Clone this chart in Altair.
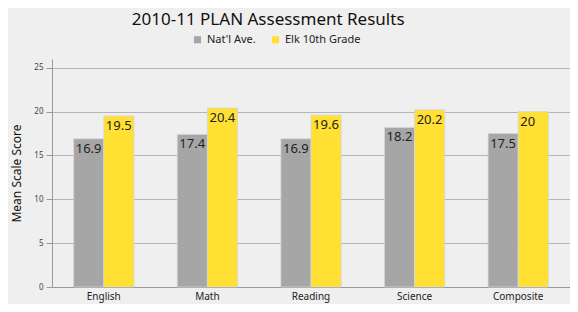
import altair as alt
import pandas as pd

categories = ["English", "Math", "Reading", "Science", "Composite"]
natl = [16.9, 17.4, 16.9, 18.2, 17.5]
elk = [19.5, 20.4, 19.6, 20.2, 20]
series = ["Nat'l Ave.", "Elk 10th Grade"]

rows = []
for c, a, b in zip(categories, natl, elk):
    rows.append({"cat": c, "series": series[0], "val": a, "label": f"{a:g}"})
    rows.append({"cat": c, "series": series[1], "val": b, "label": f"{b:g}"})
df = pd.DataFrame(rows)

FONT = "Noto Sans"

x = alt.X("cat:N", sort=categories, title=None,
          scale=alt.Scale(paddingInner=0, paddingOuter=0),
          axis=alt.Axis(labelAngle=0, ticks=False, labelPadding=4, labelFontSize=10,
                        labelColor="#222", domainColor="#999", labelFont=FONT))
xo = alt.XOffset("series:N", sort=series,
                 scale=alt.Scale(paddingInner=0, paddingOuter=0.72))
color = alt.Color("series:N", sort=series,
                  scale=alt.Scale(domain=series, range=["#a6a6a6", "#ffe033"]),
                  legend=alt.Legend(title=None, orient="none", direction="horizontal",
                                    legendX=140, legendY=-25, symbolType="square",
                                    symbolSize=50, labelFontSize=11, labelFont=FONT,
                                    labelColor="#222", columnPadding=14, symbolStrokeWidth=0))

bars = alt.Chart(df).mark_bar(stroke="#d6d6d6", strokeWidth=0.8).encode(
    x=x, xOffset=xo,
    y=alt.Y("val:Q", title="Mean Scale Score",
            scale=alt.Scale(domain=[0, 25]),
            axis=alt.Axis(values=[0, 5, 10, 15, 20, 25], tickSize=6, tickColor="#999",
                          domainColor="#999", gridColor="#b5b5b5", labelFontSize=8,
                          labelColor="#444", labelPadding=3, titleFontSize=12,
                          titleFontWeight="normal", titleColor="#111", titlePadding=10,
                          labelFont=FONT, titleFont=FONT)),
    color=color,
)

text = alt.Chart(df).mark_text(align="left", baseline="top", dx=-13, dy=4,
                               fontSize=13, font=FONT, color="#222").encode(
    x=alt.X("cat:N", sort=categories), xOffset=xo, y="val:Q", text="label:N"
)

chart = alt.layer(bars, text).properties(
    width=518, height=228,
    title=alt.Title("2010-11 PLAN Assessment Results", fontSize=17, font=FONT,
                    fontWeight="normal", color="#111", anchor="start", dx=121, offset=5),
    background="#efefef",
    autosize=alt.AutoSizeParams(type="none"),
    padding={"left": 44, "top": 51, "right": 0, "bottom": 17},
).configure_view(stroke=None)

chart.save("out.html", embed_options={"renderer": "svg", "actions": False})
